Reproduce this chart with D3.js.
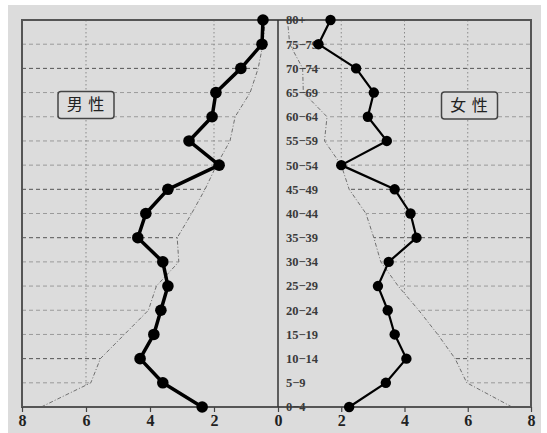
<!DOCTYPE html>
<html>
<head>
<meta charset="utf-8">
<script src="https://cdn.jsdelivr.net/npm/d3@7/dist/d3.min.js"></script>
<style>
  html, body { margin: 0; padding: 0; background: #ffffff; }
  svg { display: block; }
</style>
</head>
<body>
<svg id="chart" width="547" height="433"></svg>
<script>
// ---- data (bottom to top) ----
const ages = ["0-4","5-9","10-14","15-19","20-24","25-29","30-34","35-39","40-44",
              "45-49","50-54","55-59","60-64","65-69","70-74","75-79","80+"];
const male    = [2.37,3.60,4.31,3.88,3.66,3.44,3.60,4.38,4.13,3.44,1.84,2.78,2.06,1.94,1.16,0.50,0.47];
const female  = [2.25,3.41,4.06,3.69,3.47,3.16,3.50,4.38,4.19,3.69,2.00,3.44,2.84,3.03,2.47,1.28,1.66];
const maleRef   = [7.40,5.85,5.55,4.80,4.05,3.80,3.10,3.15,2.70,2.28,1.92,1.50,1.34,0.87,0.62,0.47,0.40];
const femaleRef = [7.40,5.97,5.60,5.05,4.45,3.80,3.25,3.03,2.78,2.25,2.00,1.47,1.55,0.80,0.78,0.37,0.30];
const leftTicks  = [8,6,4,2];
const rightTicks = [0,2,4,6,8];
const maleVGrid   = [2,6];
const femaleVGrid = [2,4,6];
const darkRows = ["70-74","45-49","35-39","10-14"];
const maleTitle = "男 性";
const femaleTitle = "女 性";

// ---- layout ----
const svg = d3.select("#chart");
const L = 22, R = 531, T = 20, B = 407, C = 278;
const bg = "#dcdcdc";

const xL = d3.scaleLinear().domain([0, 8]).range([C, L]);
const xR = d3.scaleLinear().domain([0, 8]).range([C, R]);
const y  = d3.scalePoint().domain(ages).range([B, T]);

// outer background
svg.append("rect").attr("x", 8).attr("y", 5).attr("width", 533).attr("height", 428).attr("fill", bg);
svg.append("rect").attr("x", L).attr("y", T).attr("width", R - L).attr("height", B - T).attr("fill", bg);

// grid
const grid = svg.append("g");
ages.forEach(a => {
  const dark = darkRows.includes(a);
  grid.append("line")
    .attr("x1", L).attr("x2", R).attr("y1", y(a)).attr("y2", y(a))
    .attr("stroke", dark ? "#555" : "#9a9a9a").attr("stroke-width", 1)
    .attr("stroke-dasharray", "4,3");
});
maleVGrid.forEach(v => grid.append("line")
  .attr("x1", xL(v)).attr("x2", xL(v)).attr("y1", T).attr("y2", B)
  .attr("stroke", "#8a8a8a").attr("stroke-dasharray", "1.5,2.5"));
femaleVGrid.forEach(v => grid.append("line")
  .attr("x1", xR(v)).attr("x2", xR(v)).attr("y1", T).attr("y2", B)
  .attr("stroke", "#8a8a8a").attr("stroke-dasharray", "1.5,2.5"));

// cover area between the center and the reference profile
const idx = d3.range(ages.length);
const areaL = d3.area().x0(C).x1(i => xL(maleRef[i])).y(i => y(ages[i]));
const areaR = d3.area().x0(C).x1(i => xR(femaleRef[i])).y(i => y(ages[i]));
svg.append("path").attr("d", areaL(idx)).attr("fill", bg);
svg.append("path").attr("d", areaR(idx)).attr("fill", bg);

// reference lines
const refLineL = d3.line().x(i => xL(maleRef[i])).y(i => y(ages[i]));
const refLineR = d3.line().x(i => xR(femaleRef[i])).y(i => y(ages[i]));
svg.append("path").attr("d", refLineL(idx)).attr("fill", "none")
  .attr("stroke", "#707070").attr("stroke-width", 1).attr("stroke-dasharray", "4,2,1,2");
svg.append("path").attr("d", refLineR(idx)).attr("fill", "none")
  .attr("stroke", "#707070").attr("stroke-width", 1).attr("stroke-dasharray", "4,2,1,2");

// frame
svg.append("rect").attr("x", L).attr("y", T).attr("width", R - L).attr("height", B - T)
  .attr("fill", "none").attr("stroke", "#555").attr("stroke-width", 2);
svg.append("line").attr("x1", C).attr("x2", C).attr("y1", T).attr("y2", B)
  .attr("stroke", "#333").attr("stroke-width", 1.5);

// age labels
svg.append("g").selectAll("text").data(ages).join("text")
  .attr("x", C + 8).attr("y", d => y(d)).attr("dy", "0.35em")
  .attr("font-family", "Liberation Serif, DejaVu Serif, serif")
  .attr("font-size", 12.5).attr("font-weight", "bold").attr("fill", "#3a3a3a")
  .text(d => d.replace("-", "\u2212"));

// axes
const axL = svg.append("g").attr("transform", `translate(0,${B})`)
  .call(d3.axisBottom(xL).tickValues(leftTicks).tickSize(5).tickFormat(d3.format("d")));
const axR = svg.append("g").attr("transform", `translate(0,${B})`)
  .call(d3.axisBottom(xR).tickValues(rightTicks).tickSize(5).tickFormat(d3.format("d")));
[axL, axR].forEach(ax => {
  ax.select(".domain").remove();
  ax.selectAll(".tick line").attr("stroke", "#444").attr("stroke-width", 1.2);
  ax.selectAll(".tick text").attr("font-family", "Liberation Serif, DejaVu Serif, serif")
    .attr("font-size", 16).attr("font-weight", "bold").attr("fill", "#222").attr("dy", "0.7em");
});

// data lines
const lineM = d3.line().x(i => xL(male[i])).y(i => y(ages[i]));
const lineF = d3.line().x(i => xR(female[i])).y(i => y(ages[i]));
svg.append("path").attr("d", lineM(idx)).attr("fill", "none")
  .attr("stroke", "#000").attr("stroke-width", 3.5).attr("stroke-linejoin", "round");
svg.append("path").attr("d", lineF(idx)).attr("fill", "none")
  .attr("stroke", "#000").attr("stroke-width", 2.2).attr("stroke-linejoin", "round");
svg.append("g").selectAll("circle").data(idx).join("circle")
  .attr("cx", i => xL(male[i])).attr("cy", i => y(ages[i])).attr("r", 5.8).attr("fill", "#000");
svg.append("g").selectAll("circle").data(idx).join("circle")
  .attr("cx", i => xR(female[i])).attr("cy", i => y(ages[i])).attr("r", 5.2).attr("fill", "#000");

// title boxes
function titleBox(cx, cy, label) {
  const g = svg.append("g");
  g.append("rect").attr("x", cx - 28).attr("y", cy - 13).attr("width", 56).attr("height", 27)
    .attr("rx", 3).attr("fill", bg).attr("stroke", "#444").attr("stroke-width", 1.5);
  g.append("text").attr("x", cx).attr("y", cy).attr("dy", "0.36em").attr("text-anchor", "middle")
    .attr("font-family", "Noto Sans CJK SC, sans-serif").attr("font-size", 16).attr("fill", "#222")
    .attr("letter-spacing", 1).text(label);
}
titleBox(86, 104.5, maleTitle);
titleBox(469.5, 105, femaleTitle);
</script>
</body>
</html>
